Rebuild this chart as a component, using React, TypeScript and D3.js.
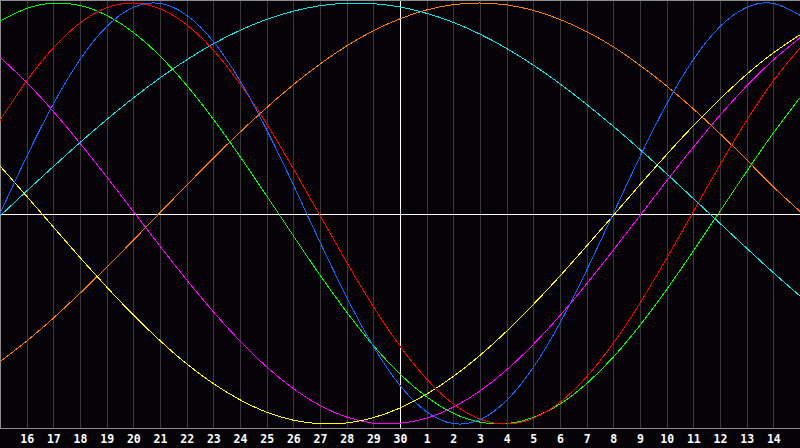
import { useEffect, useRef } from "react";
import * as d3 from "d3";

// day boundaries 0..30 across the chart, "today" (30) at the centre
const dayLabels = [
  "16", "17", "18", "19", "20", "21", "22", "23", "24", "25", "26", "27", "28", "29", "30",
  "1", "2", "3", "4", "5", "6", "7", "8", "9", "10", "11", "12", "13", "14",
];

// cycle values read at each day boundary (31 samples, -1..1)
const physical = [
  0, 0.27, 0.52, 0.731, 0.888, 0.979, 0.998, 0.942, 0.817, 0.631, 0.398, 0.136, -0.136, -0.398, -0.631,
  -0.817, -0.942, -0.998, -0.979, -0.888, -0.731, -0.52, -0.27, 0, 0.27, 0.52, 0.731, 0.888, 0.979, 0.998, 0.942,
];
const emotional = [
  0.442, 0.63, 0.787, 0.905, 0.977, 1, 0.973, 0.897, 0.776, 0.616, 0.426, 0.213, -0.009, -0.231, -0.442,
  -0.63, -0.787, -0.905, -0.977, -1, -0.973, -0.897, -0.776, -0.616, -0.426, -0.213, 0.009, 0.231, 0.442, 0.63, 0.787,
];
const intellectual = [
  0.914, 0.974, 0.999, 0.988, 0.941, 0.86, 0.748, 0.609, 0.448, 0.271, 0.084, -0.106, -0.293, -0.468, -0.627,
  -0.763, -0.871, -0.949, -0.991, -0.998, -0.969, -0.905, -0.808, -0.682, -0.531, -0.361, -0.178, 0.011, 0.2, 0.382, 0.55,
];
const spiritual = [
  -0.012, 0.107, 0.223, 0.337, 0.446, 0.549, 0.644, 0.73, 0.806, 0.87, 0.922, 0.961, 0.987, 0.999, 0.997,
  0.981, 0.951, 0.908, 0.852, 0.784, 0.705, 0.616, 0.518, 0.414, 0.304, 0.189, 0.071, -0.047, -0.165, -0.281, -0.392,
];
const awareness = [
  -0.704, -0.606, -0.497, -0.379, -0.255, -0.127, 0.004, 0.134, 0.263, 0.386, 0.503, 0.612, 0.71, 0.796, 0.868,
  0.925, 0.967, 0.992, 1, 0.991, 0.965, 0.922, 0.864, 0.792, 0.704, 0.606, 0.497, 0.379, 0.255, 0.127, 0.01,
];
const intuition = [
  0.742, 0.622, 0.485, 0.334, 0.174, 0.01, -0.155, -0.315, -0.467, -0.606, -0.729, -0.832, -0.912, -0.967, -0.996,
  -0.997, -0.972, -0.92, -0.843, -0.743, -0.622, -0.485, -0.334, -0.174, -0.01, 0.155, 0.315, 0.467, 0.606, 0.729, 0.835,
];
const aesthetic = [
  0.226, 0.082, -0.064, -0.209, -0.349, -0.482, -0.604, -0.714, -0.808, -0.885, -0.944, -0.982, -0.999, -0.995, -0.97,
  -0.924, -0.858, -0.774, -0.674, -0.559, -0.432, -0.297, -0.154, -0.009, 0.137, 0.28, 0.417, 0.544, 0.661, 0.763, 0.849,
];

const seriesNames = ["awareness", "spiritual", "intuition", "aesthetic", "intellectual", "emotional", "physical"];
const seriesValues = [awareness, spiritual, intuition, aesthetic, intellectual, emotional, physical];
const seriesColors = ["#ff7c00", "#10e4e4", "#ff00ff", "#ffff00", "#00ff00", "#ff0000", "#1468ff"];

const W = 800, H = 448;
const PLOT_B = 428;

export default function App() {
  const ref = useRef<SVGSVGElement>(null);

  useEffect(() => {
    if (!ref.current) return;
    const svg = d3.select(ref.current);
    svg.selectAll("*").remove();

    const x = d3.scaleLinear().domain([0, 30]).range([0, W]);
    const y = d3.scaleLinear().domain([-1, 1]).range([424, 3]);

    svg.append("rect").attr("width", W).attr("height", H).attr("fill", "#050308");

    // vertical day grid
    const g = svg.append("g").attr("shape-rendering", "crispEdges");
    d3.range(1, 30).forEach(i => {
      g.append("line")
        .attr("x1", Math.round(x(i)) + 0.5).attr("x2", Math.round(x(i)) + 0.5)
        .attr("y1", 0).attr("y2", PLOT_B)
        .attr("stroke", i === 15 ? "#ffffff" : "#3a3a3a").attr("stroke-width", 1);
    });

    // zero line
    g.append("line")
      .attr("x1", 0).attr("x2", W)
      .attr("y1", Math.round(y(0)) + 0.5).attr("y2", Math.round(y(0)) + 0.5)
      .attr("stroke", "#ffffff");

    // frame (left, top, bottom)
    g.append("path")
      .attr("d", `M0.5,${PLOT_B + 0.5}V0.5H${W}M0,${PLOT_B + 0.5}H${W}`)
      .attr("fill", "none").attr("stroke", "#8c8c8c");

    // curves
    const line = d3.line<number>()
      .x((_, i) => x(i))
      .y(v => y(v))
      .curve(d3.curveNatural);
    const cg = svg.append("g").attr("shape-rendering", "optimizeSpeed");
    seriesValues.forEach((vals, k) => {
      cg.append("path")
        .attr("class", seriesNames[k])
        .attr("d", line(vals) ?? "")
        .attr("fill", "none")
        .attr("stroke", seriesColors[k])
        .attr("stroke-width", 1);
    });

    // day labels
    dayLabels.forEach((lab, i) => {
      svg.append("text")
        .attr("x", x(i + 1) + 0.5).attr("y", 443)
        .attr("text-anchor", "middle")
        .attr("font-family", "'DejaVu Sans Mono', monospace")
        .attr("font-weight", 700)
        .attr("font-size", 11.5)
        .attr("fill", "#ffffff")
        .text(lab);
    });
  }, []);

  return (
    <div style={{ position: "fixed", left: 0, top: 0, width: W, height: H, background: "#050308" }}>
      <svg ref={ref} width={W} height={H} style={{ display: "block" }} />
    </div>
  );
}
